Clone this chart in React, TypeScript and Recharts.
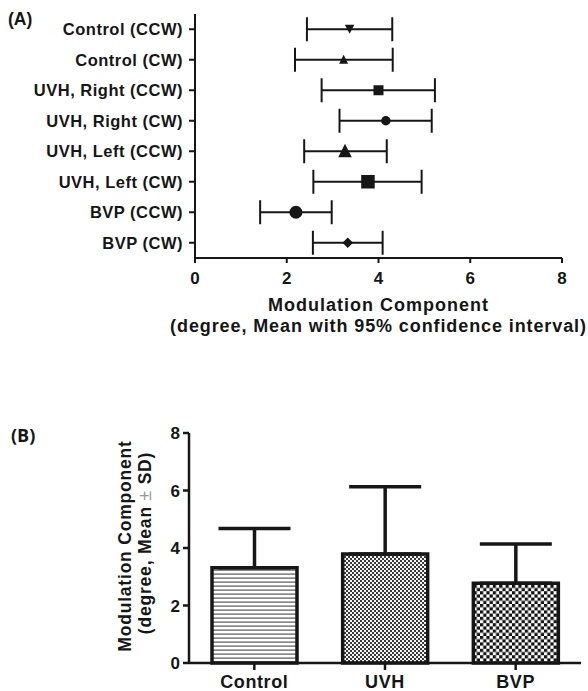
import React from 'react';
import { ComposedChart, Line, XAxis, YAxis, ErrorBar, BarChart, Bar, Cell } from 'recharts';

// Panel A: mean with 95% CI
const groupLabels = [
  'Control (CCW)',
  'Control (CW)',
  'UVH, Right (CCW)',
  'UVH, Right (CW)',
  'UVH, Left (CCW)',
  'UVH, Left (CW)',
  'BVP (CCW)',
  'BVP (CW)',
];
const groupMeans = [3.37, 3.24, 4.0, 4.16, 3.27, 3.77, 2.2, 3.33];
const ciLower = [2.44, 2.18, 2.76, 3.15, 2.38, 2.58, 1.42, 2.57];
const ciUpper = [4.3, 4.31, 5.23, 5.16, 4.18, 4.94, 2.98, 4.09];
const xTicksA = [0, 2, 4, 6, 8];

// Panel B: mean ± SD
const barCategories = ['Control', 'UVH', 'BVP'];
const barMeans = [3.31, 3.79, 2.77];
const barSD = [1.37, 2.34, 1.37];
const yTicksB = [0, 2, 4, 6, 8];

const markerKinds = ['tdown', 'tup', 'square', 'circle', 'tup', 'square', 'circle', 'diamond'];
const markerSizes = [9.5, 9, 10, 9.5, 13.5, 13.5, 13, 10.5];
const barPatterns = ['url(#hLines)', 'url(#fineCheck)', 'url(#coarseCheck)'];

const dataA = groupLabels.map((name, i) => ({
  name,
  mean: groupMeans[i],
  ci: [groupMeans[i] - ciLower[i], ciUpper[i] - groupMeans[i]],
}));

const dataB = barCategories.map((name, i) => ({
  name,
  mean: barMeans[i],
  sd: [0, barSD[i]],
}));

const FONT = '"Liberation Sans", Arial, Helvetica, sans-serif';
const INK = '#161616';

function Marker(props: any) {
  const { cx, cy, index } = props;
  if (cx == null || cy == null) return null;
  const kind = markerKinds[index];
  const s = markerSizes[index];
  const h = s / 2;
  const key = `mk-${index}`;
  if (kind === 'circle') return <circle key={key} cx={cx} cy={cy} r={h} fill={INK} />;
  if (kind === 'square') return <rect key={key} x={cx - h} y={cy - h} width={s} height={s} fill={INK} />;
  if (kind === 'diamond')
    return <polygon key={key} points={`${cx},${cy - h} ${cx + h},${cy} ${cx},${cy + h} ${cx - h},${cy}`} fill={INK} />;
  if (kind === 'tup')
    return (
      <polygon key={key} points={`${cx},${cy - s * 0.56} ${cx + h},${cy + s * 0.44} ${cx - h},${cy + s * 0.44}`} fill={INK} />
    );
  return (
    <polygon key={key} points={`${cx - h},${cy - s * 0.48} ${cx + h},${cy - s * 0.48} ${cx},${cy + s * 0.48}`} fill={INK} />
  );
}

function XLabelA(props: any) {
  const vb = props.viewBox || { x: 0, y: 0, width: 0, height: 0 };
  const cx = vb.x + vb.width / 2;
  return (
    <g>
      <text x={cx} y={vb.y + 53} textAnchor="middle" fontFamily={FONT} fontWeight="bold" fontSize={18} letterSpacing={1} fill={INK}>
        Modulation Component
      </text>
      <text x={cx} y={vb.y + 74} textAnchor="middle" fontFamily={FONT} fontWeight="bold" fontSize={18} letterSpacing={0.9} fill={INK}>
        (degree, Mean with 95%  confidence interval)
      </text>
    </g>
  );
}

function YLabelB(props: any) {
  const vb = props.viewBox || { x: 0, y: 0, width: 0, height: 0 };
  const cy = vb.y + vb.height / 2 - 2;
  return (
    <g>
      <text
        x={131}
        y={cy}
        transform={`rotate(-90, 131, ${cy})`}
        textAnchor="middle"
        fontFamily={FONT}
        fontWeight="bold"
        fontSize={17.5}
        letterSpacing={0.8}
        fill={INK}
      >
        Modulation Component
      </text>
      <text
        x={151}
        y={cy - 3}
        transform={`rotate(-90, 151, ${cy - 3})`}
        textAnchor="middle"
        fontFamily={FONT}
        fontWeight="bold"
        fontSize={17.5}
        letterSpacing={0.8}
        fill={INK}
      >
        (degree, Mean{' '}
        <tspan fontWeight="normal" fill="#9a9a9a">±</tspan> SD)
      </text>
    </g>
  );
}

export default function App() {
  return (
    <div style={{ position: 'absolute', left: 0, top: 0, width: 588, height: 691, background: '#fff', overflow: 'hidden' }}>
      <svg width={0} height={0} style={{ position: 'absolute' }}>
        <defs>
          <pattern id="hLines" patternUnits="userSpaceOnUse" width={8} height={4}>
            <rect x={0} y={0} width={8} height={4} fill="#fff" />
            <rect x={0} y={1.5} width={8} height={1.2} fill="#555" />
          </pattern>
          <pattern id="fineCheck" patternUnits="userSpaceOnUse" width={4} height={4}>
            <rect x={0} y={0} width={4} height={4} fill="#f4f4f4" />
            <rect x={0} y={0} width={2} height={2} fill="#3a3a3a" />
            <rect x={2} y={2} width={2} height={2} fill="#3a3a3a" />
          </pattern>
          <pattern id="coarseCheck" patternUnits="userSpaceOnUse" width={6.4} height={6.4}>
            <rect x={0} y={0} width={6.4} height={6.4} fill="#fff" />
            <rect x={0} y={0} width={3.2} height={3.2} fill="#111" />
            <rect x={3.2} y={3.2} width={3.2} height={3.2} fill="#111" />
          </pattern>
        </defs>
      </svg>

      <svg width={588} height={691} style={{ position: 'absolute', left: 0, top: 0, pointerEvents: 'none' }}>
        <text x={8} y={25} fontFamily={FONT} fontWeight="bold" fontSize={17.5} fill={INK}>(A)</text>
        <text x={11} y={442} fontFamily='"Open Sans", "Noto Sans", sans-serif' fontWeight="bold" fontSize={18} fill={INK}>(B)</text>
      </svg>

      <div style={{ position: 'absolute', left: 0, top: 0 }}>
        <ComposedChart
          width={588}
          height={345}
          data={dataA}
          layout="vertical"
          margin={{ top: 14, right: 26, bottom: 0, left: 0 }}
        >
          <XAxis
            type="number"
            domain={[0, 8]}
            ticks={xTicksA}
            interval={0}
            height={87}
            tickSize={5}
            tickMargin={9}
            stroke={INK}
            strokeWidth={2}
            tick={{ fontFamily: FONT, fontWeight: 'bold', fontSize: 17, fill: INK }}
            label={<XLabelA />}
          />
          <YAxis
            type="category"
            dataKey="name"
            scale="band"
            width={195}
            interval={0}
            tickSize={6}
            tickMargin={6}
            stroke={INK}
            strokeWidth={2}
            tick={{ fontFamily: FONT, fontWeight: 'bold', fontSize: 16.5, fill: INK, letterSpacing: 0.5 }}
          />
          <Line dataKey="mean" stroke="none" dot={Marker} activeDot={false} isAnimationActive={false}>
            <ErrorBar dataKey="ci" direction="x" width={12} stroke={INK} strokeWidth={2} />
          </Line>
        </ComposedChart>
      </div>

      <div style={{ position: 'absolute', left: 0, top: 380 }}>
        <BarChart
          width={588}
          height={311}
          data={dataB}
          margin={{ top: 53, right: 7, bottom: 0, left: 0 }}
        >
          <XAxis
            dataKey="name"
            height={28}
            tickSize={7}
            tickMargin={5}
            stroke={INK}
            strokeWidth={2.5}
            tick={{ fontFamily: FONT, fontWeight: 'bold', fontSize: 18, fill: INK, letterSpacing: 0.6 }}
          />
          <YAxis
            type="number"
            domain={[0, 8]}
            ticks={yTicksB}
            interval={0}
            width={189}
            tickSize={6}
            tickMargin={3}
            stroke={INK}
            strokeWidth={2.5}
            tick={{ fontFamily: FONT, fontWeight: 'bold', fontSize: 17, fill: INK }}
            label={<YLabelB />}
          />
          <Bar dataKey="mean" barSize={85} stroke={INK} strokeWidth={3.5} isAnimationActive={false}>
            {dataB.map((d, i) => (
              <Cell key={d.name} fill={barPatterns[i]} />
            ))}
            <ErrorBar dataKey="sd" direction="y" width={36} stroke={INK} strokeWidth={3.5} />
          </Bar>
        </BarChart>
      </div>
    </div>
  );
}
